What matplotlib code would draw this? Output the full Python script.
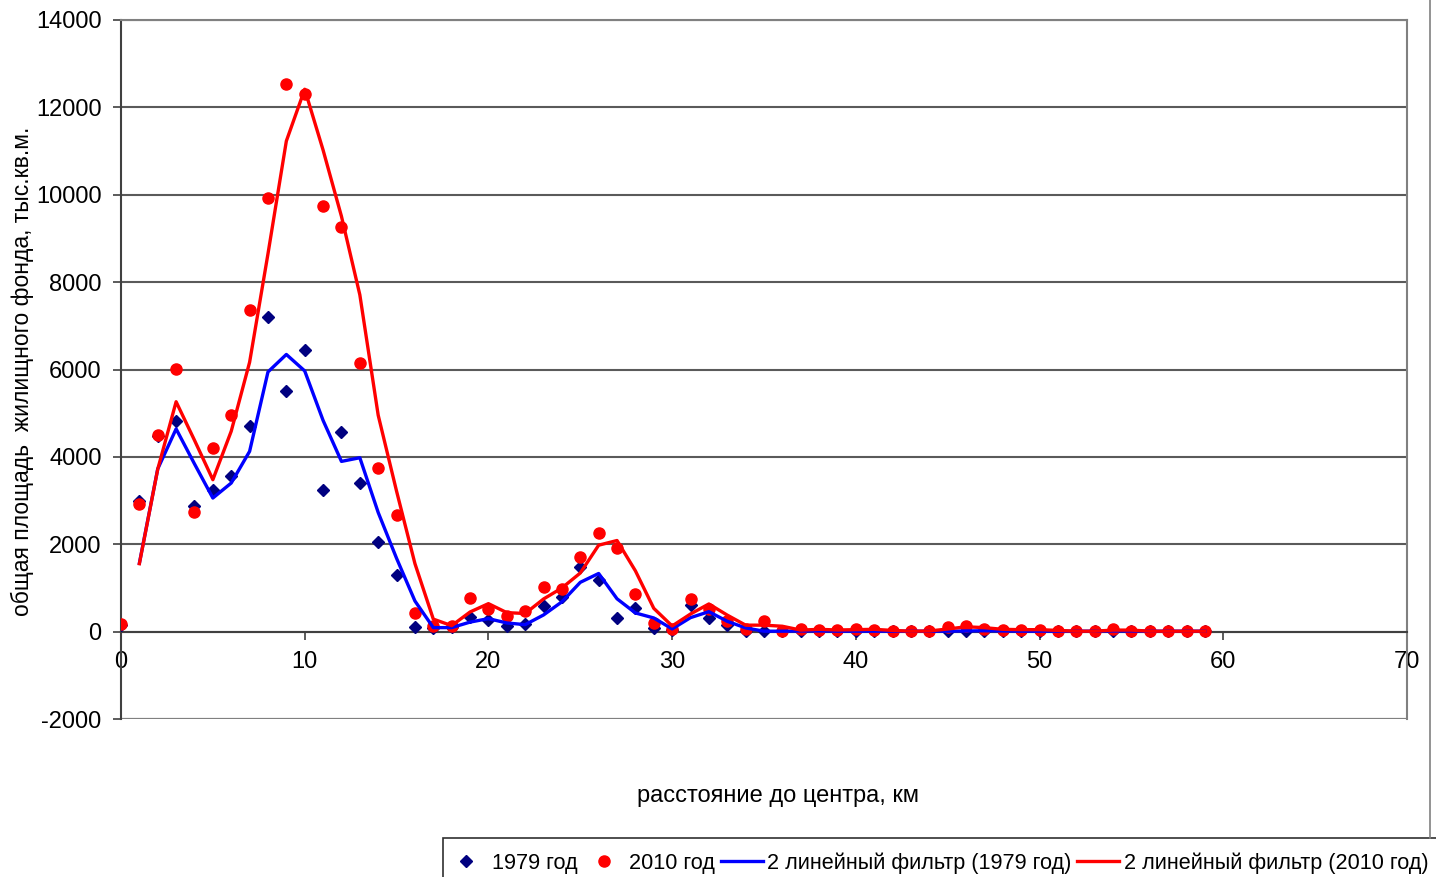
import numpy as np
import pandas as pd
import matplotlib
matplotlib.use("Agg")
import matplotlib.pyplot as plt
from matplotlib.lines import Line2D
from matplotlib.patches import Rectangle

plt.rcParams['font.family'] = ['Liberation Sans', 'DejaVu Sans']
plt.rcParams['axes.unicode_minus'] = False

# distance to centre, km
dist = list(range(60))

# housing stock, thousand sq. m
y1979 = [150, 2981, 4469, 4812, 2867, 3249, 3554, 4698, 7191, 5498,
         6436, 3233, 4560, 3401, 2052, 1304, 98, 84, 100, 336,
         259, 137, 183, 580, 785, 1472, 1190, 313, 542, 84,
         40, 600, 313, 160, 10, 10, 10, 20, 10, 10,
         10, 10, 10, 10, 10, 10, 20, 20, 10, 10,
         10, 10, 10, 10, 20, 10, 10, 10, 10, 10]
y2010 = [180, 2930, 4507, 6017, 2745, 4210, 4965, 7367, 9929, 12530,
         12300, 9746, 9266, 6154, 3752, 2677, 435, 137, 137, 762,
         519, 350, 480, 1014, 984, 1700, 2257, 1914, 869, 198,
         60, 747, 520, 236, 60, 236, 10, 60, 45, 30,
         60, 45, 10, 10, 20, 100, 122, 60, 45, 45,
         45, 10, 10, 10, 60, 10, 10, 10, 10, 10]

labels = ['1979 год', '2010 год',
          '2 линейный фильтр (1979 год)', '2 линейный фильтр (2010 год)']

df = pd.DataFrame({'x': dist, 'a': y1979, 'b': y2010})
ma1979 = df['a'].rolling(2).mean()
ma2010 = df['b'].rolling(2).mean()

fig = plt.figure(figsize=(14.36, 8.77), dpi=100)
ax = fig.add_axes([121/1436, 1-719/877, (1407-121)/1436, (719-20)/877])

ax.plot(df['x'], df['a'], 'D', color='#000080', ms=6, label=labels[0], zorder=3)
ax.plot(df['x'], df['b'], 'o', color='#ff0000', ms=8, label=labels[1], zorder=4)
ax.plot(df['x'], ma1979, '-', color='#0000ff', lw=2.4, label=labels[2], zorder=5)
ax.plot(df['x'], ma2010, '-', color='#ff0000', lw=2.4, label=labels[3], zorder=6)

ax.set_xlim(0, 70)
ax.set_ylim(-2000, 14000)
ax.set_xticks(np.arange(0, 71, 10))
ax.set_yticks(np.arange(-2000, 14001, 2000))
ax.yaxis.grid(True, color='#5a5a5a', lw=1.5)
ax.set_axisbelow(True)

ax.spines['bottom'].set_position(('data', 0))
ax.spines['bottom'].set_color('#404040')
ax.spines['left'].set_color('#404040')
ax.spines['left'].set_linewidth(1.5)
ax.spines['bottom'].set_linewidth(1.5)
for s in ['top', 'right']:
    ax.spines[s].set_color('#808080')
    ax.spines[s].set_linewidth(1.5)
ax.axhline(-2000, color='#808080', lw=1.5)

ax.tick_params(axis='x', direction='out', length=6, width=1.2, color='#404040',
               labelsize=17, pad=8)
ax.tick_params(axis='y', direction='out', length=6, width=1.2, color='#404040',
               labelsize=17, pad=8)

fig.text(22/1436, 1-371/877, 'общая площадь  жилищного фонда, тыс.кв.м.',
         rotation=90, ha='center', va='center', fontsize=16.5)
fig.text(778/1436, 1-796/877, 'расстояние до центра, км',
         ha='center', va='center', fontsize=17)

# chart area border on the right
fig.add_artist(Line2D([1430/1436, 1430/1436], [1-838/877, 1.0],
                      transform=fig.transFigure, color='#808080', lw=1.2))

# legend frame (runs off the bottom/right edge as in the original)
fig.add_artist(Rectangle((443/1436, -0.05), 0.7, 0.05 + (877-838)/877,
                         transform=fig.transFigure, fill=False,
                         edgecolor='#303030', lw=1.2))
leg = fig.legend(loc='center left', bbox_to_anchor=(444/1436, 1-863/877),
                 ncol=4, fontsize=15.6, frameon=False,
                 handlelength=1.95, handletextpad=0.2,
                 columnspacing=0.25, borderpad=0.05, borderaxespad=0)

fig.savefig('out.png', dpi=100)
